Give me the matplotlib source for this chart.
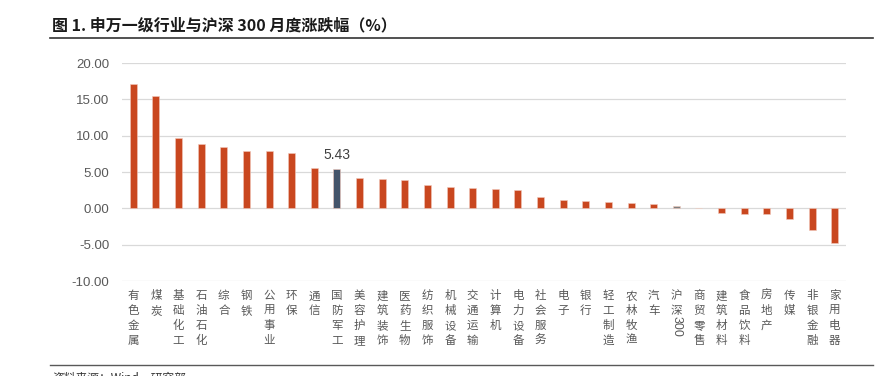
import matplotlib
matplotlib.use('Agg')
import matplotlib.pyplot as plt
from matplotlib.lines import Line2D

plt.rcParams['font.family'] = ['Noto Sans CJK SC', 'DejaVu Sans']

# 申万一级行业月度涨跌幅（%）
industries = ['有色金属', '煤炭', '基础化工', '石油石化', '综合', '钢铁', '公用事业', '环保',
              '通信', '国防军工', '美容护理', '建筑装饰', '医药生物', '纺织服饰', '机械设备',
              '交通运输', '计算机', '电力设备', '社会服务', '电子', '银行', '轻工制造',
              '农林牧渔', '汽车', '沪深300', '商贸零售', '建筑材料', '食品饮料', '房地产',
              '传媒', '非银金融', '家用电器']
changes = [17.1, 15.5, 9.7, 8.9, 8.5, 7.9, 7.85, 7.6,
           5.6, 5.43, 4.2, 4.0, 3.95, 3.25, 2.9,
           2.75, 2.6, 2.5, 1.5, 1.2, 1.0, 0.85,
           0.7, 0.55, 0.35, 0.02, -0.6, -0.75, -0.8,
           -1.4, -3.0, -4.8]
highlight = '国防军工'
benchmark = '沪深300'

colors = []
for name in industries:
    if name == highlight:
        colors.append('#44546A')
    elif name == benchmark:
        colors.append('#7F7F7F')
    else:
        colors.append('#C9471F')

fig = plt.figure(figsize=(8.9, 3.76), dpi=100)
ax = fig.add_axes([122/890, 1-281/376, (846-122)/890, (281-63)/376])

x = list(range(len(industries)))
ax.bar(x, changes, width=0.31, color=colors, edgecolor='#F2C9BC', linewidth=0.4, zorder=3)

ax.set_ylim(-10, 20)
ax.set_xlim(-0.5, len(industries)-0.5)
ax.set_yticks([-10, -5, 0, 5, 10, 15, 20])
ax.set_yticklabels(['%.2f' % v for v in [-10, -5, 0, 5, 10, 15, 20]],
                   fontsize=9.5, color='#595959', family=['Liberation Sans', 'DejaVu Sans'])
ax.grid(axis='y', color='#D9D9D9', linewidth=0.9, zorder=0)
for s in ax.spines.values():
    s.set_visible(False)

labels = []
for name in industries:
    if name == benchmark:
        labels.append('沪\n深')
    else:
        labels.append('\n'.join(name))
ax.set_xticks(x)
ax.set_xticklabels(labels, fontsize=8.3, color='#595959', linespacing=1.18, va='top')
ax.tick_params(axis='x', length=0, pad=6)
ax.tick_params(axis='y', length=0, pad=9)

# "300" is written sideways under 沪深
bi = industries.index(benchmark)
ax.annotate('300', xy=(bi, 0), xycoords=('data', 'axes fraction'),
            xytext=(0, -25), textcoords='offset points', rotation=-90,
            ha='center', va='top', fontsize=9, color='#595959',
            family=['Liberation Sans', 'DejaVu Sans'])

hi = industries.index(highlight)
ax.annotate('%.2f' % changes[hi], xy=(hi, changes[hi]), xytext=(0, 5),
            textcoords='offset points', ha='center', va='bottom',
            fontsize=10, color='#404040', family=['Liberation Sans', 'DejaVu Sans'])

fig.text(52/890, 1-25/376, '图 1. 申万一级行业与沪深 300 月度涨跌幅（%）',
         fontsize=11.5, fontweight='bold', color='#1a1a1a', va='center', ha='left')
fig.add_artist(Line2D([50/890, 873/890], [1-38/376, 1-38/376], color='#333333', linewidth=1.2))
fig.add_artist(Line2D([50/890, 873/890], [1-365/376, 1-365/376], color='#595959', linewidth=1.0))
fig.text(52/890, 1-372/376, '资料来源：Wind，研究部', fontsize=8.5, color='#333333',
         va='top', ha='left')

fig.savefig('out.png', dpi=100)
